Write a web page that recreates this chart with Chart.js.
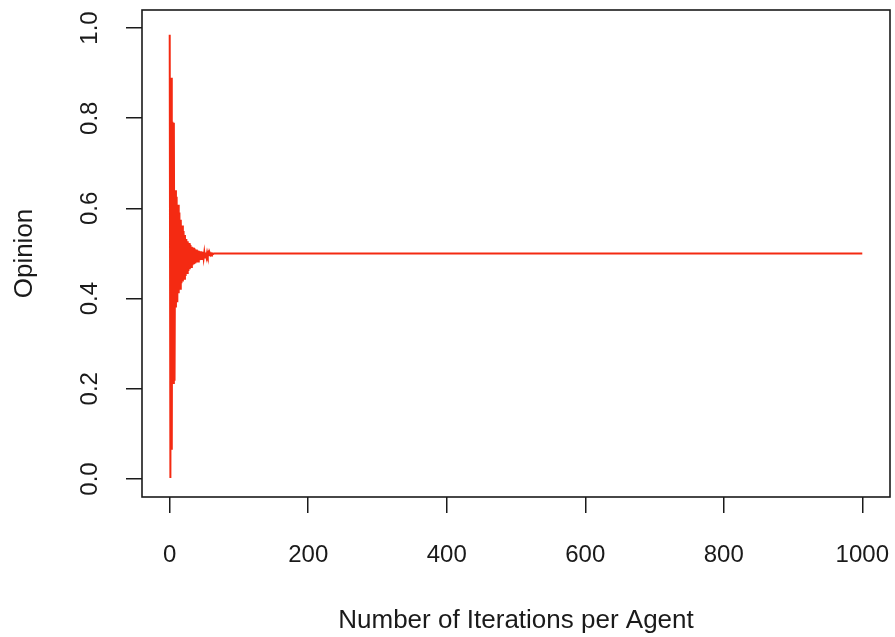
<!DOCTYPE html>
<html>
<head>
<meta charset="UTF-8">
<script src="https://cdn.jsdelivr.net/npm/chart.js"></script>
<style>
  html, body { margin: 0; padding: 0; background: #fff; }
  #wrap { width: 895px; height: 637px; }
</style>
</head>
<body>
<div id="wrap"><canvas id="grafica" width="895" height="637"></canvas></div>
<script>
  // opinion trajectory, one value per iteration, then flat to the end
  const iterations = [
    0, 1, 2, 3, 4, 5, 6, 7, 8, 9,
    10, 11, 12, 13, 14, 15, 16, 17, 18, 19,
    20, 21, 22, 23, 24, 25, 26, 27, 28, 29,
    30, 31, 32, 33, 34, 35, 36, 37, 38, 39,
    40, 41, 42, 43, 44, 45, 46, 47, 48, 49,
    50, 51, 52, 53, 54, 55, 56, 57, 58, 59,
    60, 61, 62, 63, 64, 1000
  ];
  const opinion = [
    0.985, 0.002, 0.890, 0.065, 0.792, 0.213, 0.790, 0.218, 0.640, 0.380,
    0.626, 0.392, 0.608, 0.412, 0.591, 0.422, 0.575, 0.434, 0.562, 0.438,
    0.550, 0.444, 0.541, 0.450, 0.532, 0.457, 0.527, 0.461, 0.523, 0.465,
    0.519, 0.470, 0.515, 0.474, 0.513, 0.476, 0.511, 0.478, 0.509, 0.480,
    0.507, 0.482, 0.506, 0.485, 0.505, 0.486, 0.504, 0.488, 0.504, 0.490,
    0.503, 0.491, 0.502, 0.493, 0.502, 0.495, 0.501, 0.496, 0.501, 0.497,
    0.500, 0.498, 0.500, 0.499, 0.500, 0.500
  ];
  const xTicks = [0, 200, 400, 600, 800, 1000];
  const yTicks = [0, 0.2, 0.4, 0.6, 0.8, 1.0];

  const ink = '#1a1a1a';
  const fontFam = "'Liberation Sans', Arial, sans-serif";

  // fixed axis sizes, no extra room for overhanging labels
  function fixSize(s, w, h) {
    if (w) s.width = w;
    if (h) s.height = h;
    s.paddingLeft = 0;
    s.paddingRight = 0;
    s.paddingTop = 0;
    s.paddingBottom = 0;
  }

  // full box around the plot region
  const boxPlugin = {
    id: 'box',
    afterDraw(chart) {
      const { ctx, chartArea: a } = chart;
      ctx.save();
      ctx.strokeStyle = ink;
      ctx.lineWidth = 1.6;
      ctx.strokeRect(a.left, a.top, a.right - a.left, a.bottom - a.top);
      ctx.restore();
    }
  };

  const ctx = document.getElementById('grafica').getContext('2d');
  new Chart(ctx, {
    type: 'line',
    data: {
      datasets: [{
        data: iterations.map((t, i) => ({ x: t, y: opinion[i] })),
        borderColor: '#f42a12',
        borderWidth: 2,
        pointRadius: 0,
        tension: 0,
        fill: false
      }]
    },
    options: {
      responsive: false,
      animation: false,
      events: [],
      layout: { padding: { top: 10, right: 5, left: 0, bottom: 0 } },
      plugins: { legend: { display: false }, tooltip: { enabled: false } },
      scales: {
        x: {
          type: 'linear',
          min: -40,
          max: 1040,
          afterBuildTicks: (s) => { s.ticks = xTicks.map(v => ({ value: v })); },
          afterFit: (s) => fixSize(s, 0, 140),
          border: { display: false },
          grid: { drawOnChartArea: false, drawTicks: true, tickLength: 16, color: ink, lineWidth: 1.5 },
          ticks: {
            color: ink,
            padding: 28,
            maxRotation: 0,
            font: { family: fontFam, size: 24 },
            callback: (v) => String(v)
          },
          title: {
            display: true,
            text: 'Number of Iterations per Agent',
            color: ink,
            font: { family: fontFam, size: 26 },
            padding: { top: 0, bottom: 1 }
          }
        },
        y: {
          type: 'linear',
          min: -0.04,
          max: 1.04,
          afterBuildTicks: (s) => { s.ticks = yTicks.map(v => ({ value: v })); },
          afterFit: (s) => fixSize(s, 142, 0),
          border: { display: false },
          grid: { drawOnChartArea: false, drawTicks: true, tickLength: 16, color: ink, lineWidth: 1.5 },
          ticks: {
            color: ink,
            padding: 19,
            minRotation: 90,
            maxRotation: 90,
            crossAlign: 'center',
            font: { family: fontFam, size: 24 },
            callback: (v) => Number(v).toFixed(1)
          },
          title: {
            display: true,
            text: 'Opinion',
            color: ink,
            font: { family: fontFam, size: 26 },
            padding: { top: 9, bottom: 0 }
          }
        }
      }
    },
    plugins: [boxPlugin]
  });
</script>
</body>
</html>
